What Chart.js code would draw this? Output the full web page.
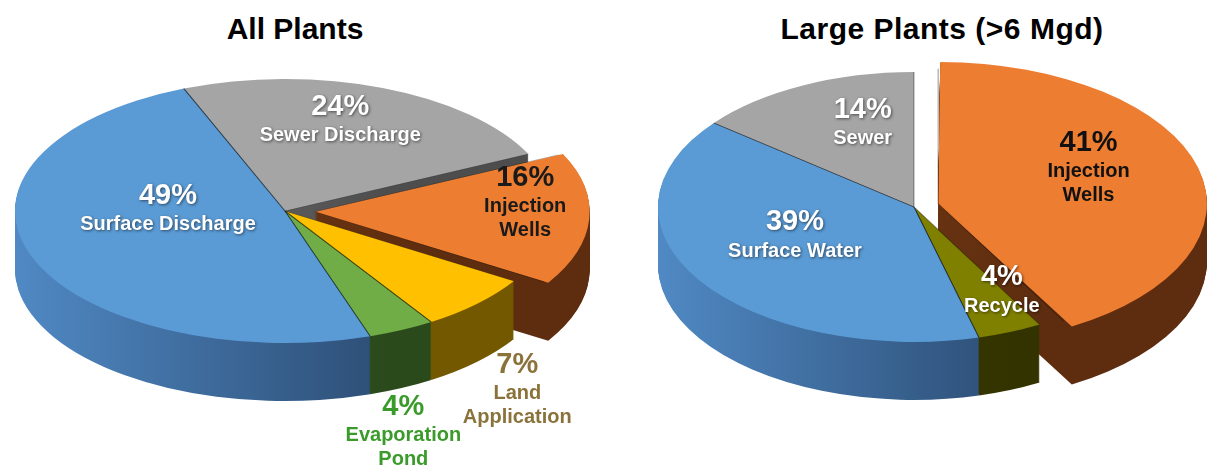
<!DOCTYPE html>
<html>
<head>
<meta charset="utf-8">
<title>Plant discharge</title>
<script src="https://cdn.jsdelivr.net/npm/chart.js@4.4.1/dist/chart.umd.min.js"></script>
<style>
  html, body { margin: 0; padding: 0; background: #fff; }
  body { width: 1211px; height: 466px; position: relative; overflow: hidden; }
  canvas { position: absolute; top: 0; }
  .title {
    position: absolute; top: 11px; text-align: center;
    font: bold 30px "Liberation Sans", Arial, sans-serif; line-height: 36px; color: #000;
  }
</style>
</head>
<body>
<div class="title" style="left:0; width:590px;">All Plants</div>
<div class="title" style="left:742px; width:400px; letter-spacing:0.5px;">Large Plants (&gt;6 Mgd)</div>
<canvas id="allPlants" width="600" height="466" style="left:0"></canvas>
<canvas id="largePlants" width="606" height="466" style="left:605px"></canvas>

<script>
// -------------------------
// Datos
// -------------------------
const allPlantsLabels = [['Sewer Discharge'], ['Injection', 'Wells'], ['Land', 'Application'], ['Evaporation', 'Pond'], ['Surface Discharge']];
const allPlantsValues = [24, 16, 7, 4, 49];

const largePlantsLabels = [['Injection', 'Wells'], ['Recycle'], ['Surface Water'], ['Sewer']];
const largePlantsValues = [41, 4, 39, 14];

// -------------------------
// Colores
// -------------------------
const allPlantsColors = ['#A5A5A5', '#ED7D31', '#FFC000', '#70AD47', '#5B9BD5'];
const allPlantsSides = [
    ['#7A7A7A', '#4D4D4D'],
    ['#7A3E17', '#5E2D0F'],
    ['#8A6A00', '#735800'],
    ['#3A6326', '#2B4A1C'],
    ['#5089C4', '#2C4D74']
];

const largePlantsColors = ['#ED7D31', '#808000', '#5B9BD5', '#A5A5A5'];
const largePlantsSides = [
    ['#7A3E17', '#5E2D0F'],
    ['#404000', '#333300'],
    ['#5089C4', '#2C4D74'],
    ['#7A7A7A', '#4D4D4D']
];

const FONT = '"Liberation Sans", Arial, sans-serif';

// aplana el pastel alrededor de su centro (y lo baja "d" px para las caras laterales)
function squash(ctx, cx, cy, k, d) {
    ctx.translate(cx, cy + d);
    ctx.scale(1, k);
    ctx.translate(-cx, -cy);
}

// -------------------------
// Plugin: pastel 3D
// -------------------------
const pie3d = {
    id: 'pie3d',
    beforeDatasetsDraw(chart, args, opts) {
        const ctx = chart.ctx;
        const arcs = chart.getDatasetMeta(0).data;
        const proto = Object.getPrototypeOf(arcs[0]);
        const cx = arcs[0].x, cy = arcs[0].y, r = arcs[0].outerRadius;

        const fills = arcs.map((arc, i) => {
            const g = ctx.createLinearGradient(cx - r, 0, cx + r * 0.4, 0);
            g.addColorStop(0, opts.sides[i][0]);
            g.addColorStop(1, opts.sides[i][1]);
            return g;
        });

        // caras laterales, capa por capa desde abajo
        for (let d = opts.depth; d >= 1; d--) {
            ctx.save();
            squash(ctx, cx, cy, opts.squash, d);
            arcs.forEach((arc, i) => {
                const side = Object.assign({}, arc, {
                    options: Object.assign({}, arc.options, { backgroundColor: fills[i], borderWidth: 0 })
                });
                proto.draw.call(side, ctx);
            });
            ctx.restore();
        }

        ctx.save();
        squash(ctx, cx, cy, opts.squash, 0);
    },

    afterDatasetsDraw(chart, args, opts) {
        const ctx = chart.ctx;
        const arcs = chart.getDatasetMeta(0).data;
        const values = chart.data.datasets[0].data;
        const labels = chart.data.labels;

        // separadores entre rebanadas
        ctx.strokeStyle = 'rgba(0,0,0,0.35)';
        ctx.lineWidth = 1.2;
        arcs.forEach(arc => {
            const mid = (arc.startAngle + arc.endAngle) / 2;
            const off = (arc.options.offset || 0) / 4;
            const ox = arc.x + Math.cos(mid) * off;
            const oy = arc.y + Math.sin(mid) * off;
            [arc.startAngle, arc.endAngle].forEach(a => {
                ctx.beginPath();
                ctx.moveTo(ox, oy);
                ctx.lineTo(ox + Math.cos(a) * arc.outerRadius, oy + Math.sin(a) * arc.outerRadius);
                ctx.stroke();
            });
        });
        ctx.restore();

        // etiquetas
        ctx.save();
        ctx.textAlign = 'center';
        ctx.textBaseline = 'middle';
        arcs.forEach((arc, i) => {
            const p = opts.labels[i];
            const mid = (arc.startAngle + arc.endAngle) / 2;
            const off = (arc.options.offset || 0) / 4;
            const rr = arc.outerRadius * p.f + off;
            const x = arc.x + Math.cos(mid) * rr + p.dx;
            const y = arc.y + Math.sin(mid) * rr * opts.squash + p.dy;

            if (p.shadow) {
                ctx.shadowColor = 'rgba(0,0,0,0.55)';
                ctx.shadowBlur = 3;
                ctx.shadowOffsetX = 1;
                ctx.shadowOffsetY = 1;
            } else {
                ctx.shadowColor = 'transparent';
            }
            ctx.fillStyle = p.color;
            ctx.font = 'bold 29px ' + FONT;
            ctx.fillText(values[i] + '%', x, y);
            ctx.font = 'bold 20px ' + FONT;
            labels[i].forEach((line, j) => ctx.fillText(line, x, y + 29 + j * 24));
        });
        ctx.restore();
    }
};

function pastel3D(canvasId, labels, values, colors, cfg) {
    const ctx = document.getElementById(canvasId);
    if (!ctx) return;

    new Chart(ctx, {
        type: 'pie',
        data: {
            labels: labels,
            datasets: [{
                data: values,
                backgroundColor: colors,
                borderWidth: 0,
                offset: cfg.offset,
                clip: false
            }]
        },
        options: {
            responsive: false,
            animation: false,
            events: [],
            rotation: cfg.rotation,
            radius: cfg.radius,
            layout: { padding: cfg.padding },
            plugins: {
                legend: { display: false },
                tooltip: { enabled: false },
                pie3d: {
                    depth: 58,
                    squash: cfg.squash,
                    sides: cfg.sides,
                    labels: cfg.labels
                }
            }
        },
        plugins: [pie3d]
    });
}

pastel3D('allPlants', allPlantsLabels, allPlantsValues, allPlantsColors, {
    rotation: -22,
    radius: 270,
    squash: 0.489,
    padding: { left: 0, right: 30, top: 0, bottom: 44 },
    offset: [0, 120, 0, 0, 0],
    sides: allPlantsSides,
    labels: [
        { f: 0.75, dx: -18, dy: -12, color: '#ffffff', shadow: true },
        { f: 0.78, dx: 0, dy: -40, color: '#1a1a1a' },
        { f: 1.12, dx: 17, dy: 50, color: '#8A733A' },
        { f: 1.10, dx: -10, dy: 65, color: '#3A9B2A' },
        { f: 0.45, dx: -3, dy: -36, color: '#ffffff', shadow: true }
    ]
});

pastel3D('largePlants', largePlantsLabels, largePlantsValues, largePlantsColors, {
    rotation: 0,
    radius: 256,
    squash: 0.527,
    padding: { left: 12, right: 0, top: 0, bottom: 52 },
    offset: [100, 0, 0, 0],
    sides: largePlantsSides,
    labels: [
        { f: 0.70, dx: -23, dy: -37, color: '#111111' },
        { f: 0.80, dx: 11, dy: -30, color: '#ffffff', shadow: true },
        { f: 0.55, dx: -1, dy: -25, color: '#ffffff', shadow: true },
        { f: 0.75, dx: 32, dy: -6, color: '#ffffff', shadow: true }
    ]
});
</script>
</body>
</html>
